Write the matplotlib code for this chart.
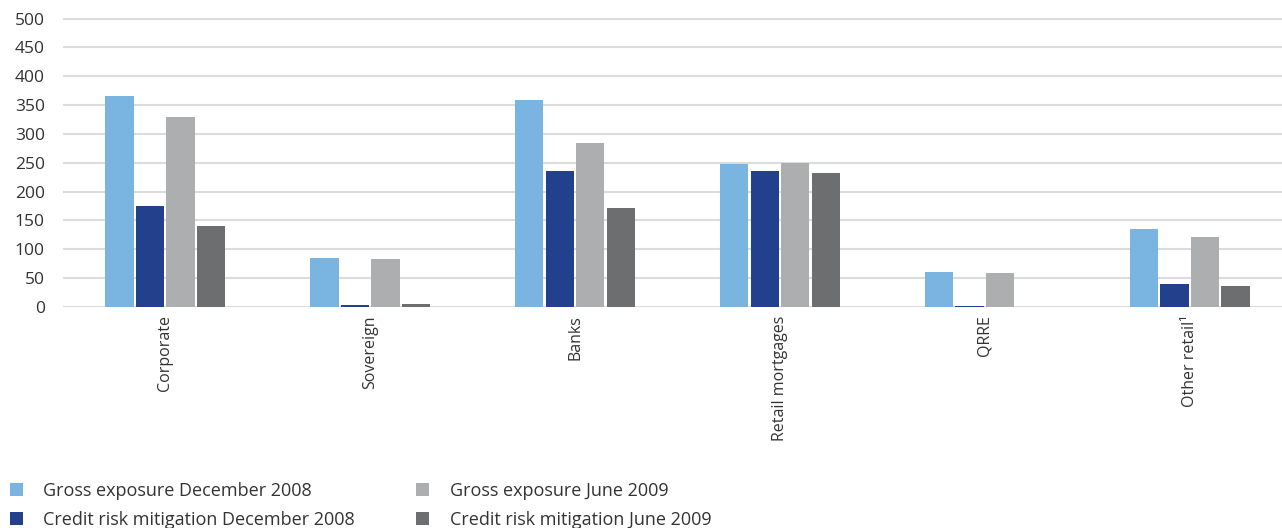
import numpy as np
import matplotlib
matplotlib.use("Agg")
import matplotlib.pyplot as plt

plt.rcParams['font.family'] = ['Open Sans', 'DejaVu Sans']

categories = ['Corporate', 'Sovereign', 'Banks', 'Retail mortgages', 'QRRE', 'Other retail\u00b9']
gross_dec08 = [365, 85, 358, 247, 60, 135]
crm_dec08 = [175, 4, 235, 236, 1.5, 39]
gross_jun09 = [329, 83, 284, 249, 59, 121]
crm_jun09 = [140, 5, 171, 232, 0.5, 36]

series = [
    ('Gross exposure December 2008', gross_dec08, '#7ab4e0'),
    ('Credit risk mitigation December 2008', crm_dec08, '#22408c'),
    ('Gross exposure June 2009', gross_jun09, '#adaeb0'),
    ('Credit risk mitigation June 2009', crm_jun09, '#6d6e70'),
]

fig = plt.figure(figsize=(12.82, 5.28), dpi=100)
ax = fig.add_axes([0.049, 0.4186, 0.951, 0.5474])

x = np.arange(len(categories))
width = 0.138
offsets = [-1.5, -0.5, 0.5, 1.5]
handles = []
for (label, vals, color), off in zip(series, offsets):
    b = ax.bar(x + off * 0.149, vals, width=width, color=color, label=label, zorder=3)
    handles.append(b)

ax.set_xlim(-0.5, 5.45)
ax.set_ylim(0, 501)
ax.set_yticks(np.arange(0, 501, 50))
ax.yaxis.grid(True, color='#dcdcdc', linewidth=1.5, zorder=0)
ax.set_axisbelow(True)
for s in ax.spines.values():
    s.set_visible(False)
ax.tick_params(axis='y', length=0, labelsize=12.5, colors='#333333', pad=13)
ax.tick_params(axis='x', length=0, labelsize=11.5, colors='#333333', pad=6)
ax.set_xticks(x)
ax.set_xticklabels(categories, rotation=90)

fig.legend(handles=handles, labels=[s[0] for s in series], ncol=2,
           loc='lower left', bbox_to_anchor=(10 / 1282, -0.002), frameon=False,
           borderpad=0, borderaxespad=0,
           fontsize=13, handlelength=0.7, handleheight=0.7, handletextpad=1.15,
           columnspacing=3.4, labelspacing=0.62, labelcolor='#333333')

fig.savefig('out.png', dpi=100)
